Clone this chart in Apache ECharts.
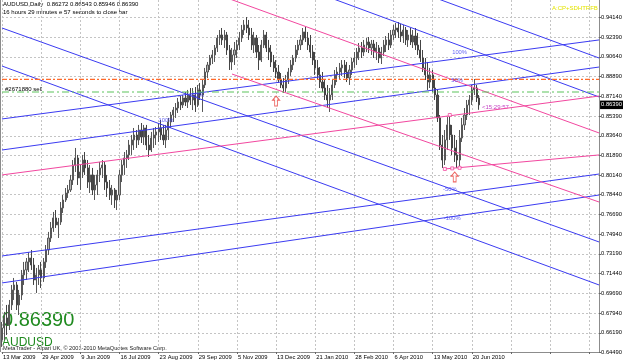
<!DOCTYPE html>
<html><head><meta charset="utf-8">
<script src="https://cdn.jsdelivr.net/npm/echarts@6/dist/echarts.min.js"></script>
<style>html,body{margin:0;padding:0;background:#fff}#c{width:625px;height:363px}</style>
</head><body><div id="c"></div>
<script>
// ---- tick labels ----
const dateLabels = ['13 Mar 2009','29 Apr 2009','9 Jun 2009','16 Jul 2009','23 Aug 2009','29 Sep 2009','5 Nov 2009','13 Dec 2009','21 Jan 2010','28 Feb 2010','6 Apr 2010','13 May 2010','20 Jun 2010'];
const yTicks = [0.94140,0.92390,0.90640,0.88890,0.87140,0.85390,0.83640,0.81890,0.80140,0.78440,0.76690,0.74940,0.73190,0.71440,0.69690,0.67940,0.66190,0.64490];
const labelStep = 16;          // bars between date labels
const slotCount = 245;         // bar slots across the chart (incl. empty shift area)

// ---- price bars: [open, close, low, high] ----
const priceBars = [
[0.6556,0.6662,0.6494,0.6715],[0.6662,0.6751,0.6556,0.6804],[0.6751,0.6689,0.6600,0.6866],[0.6689,0.6866,0.6644,0.6910],
[0.6866,0.6999,0.6821,0.7043],[0.6999,0.7043,0.6910,0.7105],[0.7043,0.6866,0.6821,0.7070],[0.6866,0.6954,0.6777,0.6999],
[0.6954,0.7132,0.6910,0.7176],[0.7132,0.7176,0.7043,0.7247],[0.7176,0.7247,0.7087,0.7282],[0.7247,0.7282,0.7158,0.7335],
[0.7282,0.7220,0.7176,0.7353],[0.7220,0.7087,0.7043,0.7282],[0.7087,0.7132,0.6972,0.7194],[0.7132,0.7176,0.7043,0.7220],
[0.7176,0.7105,0.7016,0.7247],[0.7105,0.7247,0.7070,0.7282],[0.7247,0.7353,0.7194,0.7397],[0.7353,0.7459,0.7309,0.7513],
[0.7459,0.7548,0.7424,0.7601],[0.7548,0.7637,0.7513,0.7690],[0.7637,0.7575,0.7548,0.7707],[0.7575,0.7601,0.7459,0.7637],
[0.7601,0.7725,0.7575,0.7778],[0.7725,0.7796,0.7681,0.7840],[0.7796,0.7858,0.7778,0.7902],[0.7858,0.7885,0.7814,0.7929],
[0.7885,0.7973,0.7867,0.8018],[0.7973,0.8106,0.7929,0.8150],[0.8106,0.8168,0.8044,0.8257],[0.8168,0.7991,0.7929,0.8195],
[0.7991,0.8044,0.7885,0.8106],[0.8044,0.8150,0.7991,0.8195],[0.8150,0.8080,0.8018,0.8221],[0.8080,0.7955,0.7902,0.8150],
[0.7955,0.8018,0.7858,0.8106],[0.8018,0.7885,0.7840,0.8080],[0.7885,0.7929,0.7796,0.8018],[0.7929,0.8018,0.7840,0.8062],
[0.8018,0.8080,0.7955,0.8133],[0.8080,0.8106,0.7991,0.8150],[0.8106,0.7955,0.7885,0.8133],[0.7955,0.7902,0.7823,0.8018],
[0.7902,0.7840,0.7796,0.7973],[0.7840,0.7885,0.7752,0.7929],[0.7885,0.7796,0.7725,0.7902],[0.7796,0.7840,0.7707,0.7885],
[0.7840,0.8018,0.7796,0.8062],[0.8018,0.8106,0.7955,0.8150],[0.8106,0.8168,0.8018,0.8221],[0.8168,0.8195,0.8080,0.8239],
[0.8195,0.8283,0.8150,0.8328],[0.8283,0.8328,0.8195,0.8372],[0.8328,0.8372,0.8239,0.8434],[0.8372,0.8328,0.8257,0.8416],
[0.8328,0.8416,0.8283,0.8461],[0.8416,0.8354,0.8301,0.8478],[0.8354,0.8434,0.8283,0.8461],[0.8434,0.8283,0.8239,0.8461],
[0.8283,0.8239,0.8177,0.8372],[0.8239,0.8345,0.8221,0.8399],[0.8345,0.8372,0.8257,0.8434],[0.8372,0.8399,0.8283,0.8443],
[0.8399,0.8434,0.8310,0.8478],[0.8434,0.8372,0.8328,0.8505],[0.8372,0.8328,0.8283,0.8461],[0.8328,0.8416,0.8257,0.8461],
[0.8416,0.8487,0.8328,0.8523],[0.8487,0.8549,0.8434,0.8576],[0.8549,0.8593,0.8487,0.8620],[0.8593,0.8611,0.8523,0.8655],
[0.8611,0.8664,0.8567,0.8700],[0.8664,0.8638,0.8593,0.8717],[0.8638,0.8700,0.8611,0.8726],[0.8700,0.8664,0.8629,0.8753],
[0.8664,0.8726,0.8611,0.8771],[0.8726,0.8682,0.8638,0.8788],[0.8682,0.8726,0.8593,0.8788],[0.8726,0.8638,0.8576,0.8797],
[0.8638,0.8771,0.8620,0.8815],[0.8771,0.8726,0.8682,0.8833],[0.8726,0.8815,0.8576,0.8859],[0.8815,0.8930,0.8788,0.8966],
[0.8930,0.8992,0.8877,0.9019],[0.8992,0.9054,0.8948,0.9081],[0.9054,0.9081,0.9001,0.9125],[0.9081,0.9143,0.9019,0.9169],
[0.9143,0.9231,0.9107,0.9258],[0.9231,0.9258,0.9169,0.9302],[0.9258,0.9214,0.9169,0.9320],[0.9214,0.9258,0.9143,0.9302],
[0.9258,0.9125,0.9081,0.9285],[0.9125,0.9019,0.8948,0.9169],[0.9019,0.9081,0.8948,0.9143],[0.9081,0.9125,0.8992,0.9196],
[0.9125,0.9169,0.9054,0.9214],[0.9169,0.9231,0.9125,0.9285],[0.9231,0.9302,0.9196,0.9347],[0.9302,0.9347,0.9258,0.9391],
[0.9347,0.9320,0.9276,0.9417],[0.9320,0.9258,0.9214,0.9391],[0.9258,0.9169,0.9125,0.9320],[0.9169,0.9231,0.9098,0.9285],
[0.9231,0.9107,0.9054,0.9258],[0.9107,0.9036,0.8948,0.9169],[0.9036,0.9169,0.9019,0.9214],[0.9169,0.9258,0.9143,0.9302],
[0.9258,0.9143,0.9107,0.9285],[0.9143,0.9107,0.9036,0.9214],[0.9107,0.9019,0.8974,0.9169],[0.9019,0.8966,0.8930,0.9081],
[0.8966,0.8930,0.8877,0.9036],[0.8930,0.8859,0.8833,0.8992],[0.8859,0.8815,0.8788,0.8921],[0.8815,0.8788,0.8744,0.8877],
[0.8788,0.8859,0.8753,0.8904],[0.8859,0.8930,0.8824,0.8966],[0.8930,0.8992,0.8895,0.9036],[0.8992,0.9054,0.8948,0.9081],
[0.9054,0.9125,0.9019,0.9169],[0.9125,0.9169,0.9081,0.9214],[0.9169,0.9214,0.9125,0.9258],[0.9214,0.9285,0.9169,0.9320],
[0.9285,0.9231,0.9196,0.9329],[0.9231,0.9169,0.9125,0.9285],[0.9169,0.9107,0.9054,0.9258],[0.9107,0.9036,0.8992,0.9169],
[0.9036,0.8966,0.8904,0.9107],[0.8966,0.8904,0.8859,0.9036],[0.8904,0.8841,0.8788,0.8974],[0.8841,0.8788,0.8753,0.8930],
[0.8788,0.8726,0.8682,0.8859],[0.8726,0.8682,0.8611,0.8815],[0.8682,0.8726,0.8576,0.8788],[0.8726,0.8815,0.8682,0.8859],
[0.8815,0.8904,0.8788,0.8948],[0.8904,0.8930,0.8841,0.8974],[0.8930,0.8966,0.8859,0.9010],[0.8966,0.8992,0.8895,0.9036],
[0.8992,0.8930,0.8877,0.9036],[0.8930,0.8877,0.8841,0.9019],[0.8877,0.8948,0.8815,0.8992],[0.8948,0.9019,0.8904,0.9054],
[0.9019,0.9054,0.8966,0.9107],[0.9054,0.9107,0.8992,0.9143],[0.9107,0.9143,0.9036,0.9187],[0.9143,0.9107,0.9054,0.9196],
[0.9107,0.9169,0.9072,0.9214],[0.9169,0.9196,0.9107,0.9231],[0.9196,0.9143,0.9098,0.9240],[0.9143,0.9178,0.9081,0.9214],
[0.9178,0.9107,0.9054,0.9214],[0.9107,0.9143,0.9036,0.9196],[0.9143,0.9054,0.9010,0.9169],[0.9054,0.9107,0.9001,0.9152],
[0.9107,0.9169,0.9072,0.9214],[0.9169,0.9214,0.9107,0.9249],[0.9214,0.9169,0.9125,0.9276],[0.9169,0.9258,0.9143,0.9302],
[0.9258,0.9302,0.9214,0.9347],[0.9302,0.9320,0.9231,0.9364],[0.9320,0.9285,0.9231,0.9373],[0.9285,0.9249,0.9196,0.9355],
[0.9249,0.9302,0.9187,0.9347],[0.9302,0.9214,0.9169,0.9329],[0.9214,0.9258,0.9152,0.9302],[0.9258,0.9196,0.9169,0.9320],
[0.9196,0.9249,0.9143,0.9302],[0.9249,0.9169,0.9125,0.9320],[0.9169,0.9125,0.9081,0.9276],[0.9125,0.9054,0.9019,0.9214],
[0.9054,0.8966,0.8930,0.9125],[0.8966,0.8904,0.8859,0.9054],[0.8904,0.8841,0.8771,0.9019],[0.8841,0.8904,0.8788,0.8966],
[0.8904,0.8788,0.8753,0.8948],[0.8788,0.8726,0.8682,0.8859],[0.8726,0.8523,0.8487,0.8771],[0.8523,0.8283,0.8239,0.8549],
[0.8283,0.8150,0.8080,0.8372],[0.8150,0.8328,0.8106,0.8416],[0.8328,0.8461,0.8239,0.8531],[0.8461,0.8372,0.8328,0.8549],
[0.8372,0.8257,0.8195,0.8461],[0.8257,0.8195,0.8133,0.8372],[0.8195,0.8150,0.8080,0.8328],[0.8150,0.8345,0.8097,0.8416],
[0.8345,0.8461,0.8310,0.8523],[0.8461,0.8549,0.8416,0.8611],[0.8549,0.8638,0.8505,0.8682],[0.8638,0.8682,0.8549,0.8726],
[0.8682,0.8771,0.8638,0.8815],[0.8771,0.8788,0.8726,0.8868],[0.8788,0.8700,0.8664,0.8815],[0.8700,0.8639,0.8595,0.8726]
];
const lastPrice = 0.86390;
const stopLevel = 0.8864;    // orange dash-dot level
const orderLevel = 0.8753;   // green dash-dot level (#2671880 sell)

// ---- trend lines: [[barIndex, price], [barIndex, price]] ----
const blueLines = [
  [[162,0.9707],[244,0.9054]],
  [[130,0.9621],[244,0.8709]],
  [[0,0.9320],[244,0.7424]],
  [[0,0.8983],[244,0.7043]],
  [[0,0.8514],[244,0.9214]],
  [[0,0.8239],[244,0.8974]],
  [[0,0.7300],[244,0.8026]],
  [[0,0.7061],[244,0.7840]]
];
const pinkLines = [
  [[80,0.9680],[244,0.8390]],
  [[94,0.8912],[244,0.7778]],
  [[0,0.8018],[244,0.8717]],
  [[181,0.8071],[244,0.8195]]
];
const levelLabels = [
  [187,0.9107,'100%'],[186,0.8859,'50%'],[183,0.7894,'-50%'],[184,0.7637,'-100%'],[67,0.8505,'100%'],[80,0.8726,'50%']
];
const arrowPoints = [[112,0.8673],[185,0.8000]];
const anchorPoints = [[181,0.8071],[184,0.8076],[187,0.8081],[183,0.8549]];

const FONT = 'Liberation Sans, Arial, sans-serif';
const BLUE = '#3b3bf2', PINK = '#f2479f';
const categories = Array.from({length: slotCount}, (_, i) => String(i));
const lastSlot = slotCount - 1;

const chart = echarts.init(document.getElementById('c'));
const lineSeries = (lines, color) => lines.map(l => ({
  type: 'line', data: l, symbol: 'none', silent: true, z: 4, clip: true,
  lineStyle: {color: color, width: 1}
}));
const levelSeries = (level, color, dash) => ({
  type: 'line', data: [[0, level], [lastSlot, level]], symbol: 'none', silent: true, z: 5,
  color: color, itemStyle: {color: color},
  lineStyle: {color: color, width: 1.2, type: dash, opacity: 1}
});

chart.setOption({
  animation: false,
  backgroundColor: '#ffffff',
  grid: {left: 0, right: 24, top: 0, bottom: 11},
  xAxis: {
    type: 'category', data: categories, boundaryGap: false,
    axisLine: {show: true, lineStyle: {color: '#8c8c8c', width: 1}},
    axisTick: {show: true, length: 2, interval: i => i % labelStep === 0, lineStyle: {color: '#666'}},
    axisLabel: {
      show: true, interval: i => i % labelStep === 0 && dateLabels[i / labelStep] !== undefined,
      formatter: (v, i) => dateLabels[i / labelStep] || '',
      align: 'left', margin: 2, fontSize: 5.8, color: '#000', fontFamily: FONT, padding: [0,0,0,1]
    },
    splitLine: {show: true, interval: i => i % labelStep === 0, lineStyle: {color: '#c4c4c4', type: [2, 2], width: 1}}
  },
  yAxis: {
    type: 'value', position: 'right', min: 0.6449, max: 0.9568, scale: true,
    axisLine: {show: true, lineStyle: {color: '#8c8c8c', width: 1}},
    axisTick: {show: true, length: 2, customValues: yTicks, lineStyle: {color: '#666'}},
    axisLabel: {show: true, customValues: yTicks, formatter: v => v.toFixed(5), margin: 2,
      fontSize: 5.8, color: '#000', fontFamily: FONT, align: 'left'},
    splitLine: {show: true, lineStyle: {color: '#c4c4c4', type: [2, 2], width: 1}}
  },
  series: [
    {
      type: 'candlestick', name: 'AUDUSD', data: priceBars, barWidth: 1.6, z: 3,
      itemStyle: {color: '#b4b4b4', color0: '#4a4a4a', borderColor: '#575757', borderColor0: '#444444', borderWidth: 1}
    },
    levelSeries(stopLevel, '#ff6a2a', [5, 2, 2, 2]),
    levelSeries(orderLevel, '#5cc45c', [7, 3, 2, 3]),
    {
      type: 'line', data: [[0, lastPrice], [lastSlot, lastPrice]], symbol: 'none', silent: true, z: 7,
      lineStyle: {opacity: 0},
      endLabel: {show: true, formatter: lastPrice.toFixed(5), distance: 1, backgroundColor: '#000', color: '#fff',
        fontSize: 5.8, fontFamily: FONT, padding: [1.5, 1, 1, 1]}
    },
    ...lineSeries(blueLines, BLUE),
    ...lineSeries(pinkLines, PINK),
    {
      type: 'scatter', data: levelLabels.map(d => [d[0], d[1], d[2]]), symbolSize: 0, z: 6, silent: true,
      label: {show: true, position: 'inside', formatter: p => p.data[2], color: BLUE, fontSize: 5.8, fontFamily: FONT}
    },
    {
      type: 'scatter', data: arrowPoints, z: 6, silent: true,
      symbol: 'path://M5,0 L10,5 L7,5 L7,12 L3,12 L3,5 L0,5 Z', symbolSize: [7, 10],
      itemStyle: {color: '#ffffff', borderColor: '#e8403a', borderWidth: 1}
    },
    {
      type: 'scatter', data: anchorPoints, z: 6, silent: true, symbol: 'rect', symbolSize: 3,
      itemStyle: {color: '#ffffff', borderColor: PINK, borderWidth: 1}
    }
  ],
  graphic: [
    {type: 'line', shape: {x1: 0.5, y1: 0, x2: 0.5, y2: 352}, style: {stroke: '#8c8c8c', lineWidth: 1}, silent: true},
    {type: 'text', left: 3, top: 1, style: {text: 'AUDUSD,Daily  0.86272 0.86543 0.85946 0.86390', font: '6px ' + FONT, fill: '#000'}},
    {type: 'text', left: 3, top: 9, style: {text: '16 hours 29 minutes e 57 seconds to close bar', font: '6px ' + FONT, fill: '#000'}},
    {type: 'text', left: 5, top: 86, style: {text: '#2671880 sell', font: '6px ' + FONT, fill: '#000'}},
    {type: 'text', left: 552, top: 5, style: {text: 'A:CP+SDHTRFB', font: '6px ' + FONT, fill: '#e4e400'}},
    {type: 'text', left: 482, top: 104, style: {text: '<15:29:57', font: '6px ' + FONT, fill: '#c23fc2'}},
    {type: 'text', left: 2, top: 310, style: {text: '0.86390', font: '20px ' + FONT, fill: '#1f8a1f'}},
    {type: 'text', left: 2, top: 337, style: {text: 'AUDUSD', font: '12px ' + FONT, fill: '#1f8a1f'}},
    {type: 'text', left: 3, top: 345, style: {text: 'MetaTrader - Alpari UK, \u00a9 2001-2010 MetaQuotes Software Corp.', font: '5.6px ' + FONT, fill: '#222'}}
  ]
});
</script>
</body></html>
